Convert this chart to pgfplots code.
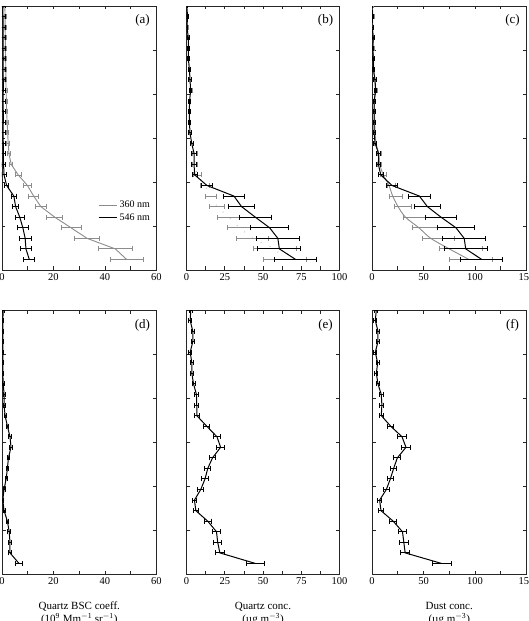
\documentclass[border=0pt]{standalone}
\usepackage{fontspec}
\setmainfont{Liberation Serif}
\usepackage{pgfplots}
\usepackage{pgfplotstable}
\pgfplotsset{compat=1.18}

% columns: altitude z (km), value v, error e
\pgfplotstableread{
z v e
0.24 48.4 6.4
0.48 44.0 6.5
0.72 33.0 4.9
0.96 26.8 3.9
1.20 20.5 3.1
1.44 15.1 2.3
1.68 12.3 1.9
1.92 9.9 1.6
2.16 6.3 1.1
2.40 3.6 0.6
2.64 2.7 0.5
2.88 2.4 0.5
3.12 2.2 0.4
3.36 2.0 0.4
3.60 1.8 0.4
3.84 1.7 0.4
4.08 1.6 0.4
4.32 1.5 0.4
4.56 1.5 0.4
4.80 1.4 0.4
5.04 1.3 0.4
5.28 1.3 0.4
5.52 1.2 0.4
5.76 1.2 0.4
6.00 1.1 0.4
}\bscA
\pgfplotstableread{
z v e
0.24 10.6 2.1
0.48 9.3 2.2
0.72 9.0 2.3
0.96 8.1 2.0
1.20 6.9 1.7
1.44 5.3 1.3
1.68 4.6 1.1
1.92 1.8 0.7
2.16 0.8 0.8
2.40 0.6 0.9
2.64 0.5 0.9
2.88 0.5 0.9
3.12 0.4 0.9
3.36 0.5 0.9
3.60 0.5 0.9
3.84 0.4 0.9
4.08 0.5 0.9
4.32 0.5 0.9
4.56 0.4 0.9
4.80 0.5 0.9
5.04 0.4 0.9
5.28 0.4 0.9
5.52 0.4 0.9
5.76 0.4 0.9
6.00 0.3 0.9
}\bscB
\pgfplotstableread{
z v e
0.24 64.3 13.9
0.48 57.8 13.8
0.72 43.3 10.4
0.96 34.5 7.5
1.20 27.5 7.1
1.44 20.0 4.8
1.68 16.0 3.8
1.92 12.0 3.0
2.16 7.2 2.7
2.40 5.5 1.5
2.64 5.5 1.5
2.88 3.6 1.0
3.12 2.5 0.8
3.36 2.1 0.7
3.60 2.1 0.7
3.84 2.2 0.7
4.08 2.9 0.8
4.32 2.5 0.7
4.56 2.1 0.7
4.80 1.4 0.6
5.04 1.4 0.6
5.28 1.4 0.6
5.52 0.5 0.5
5.76 0.9 0.5
6.00 0.4 0.5
}\qcA
\pgfplotstableread{
z v e
0.24 71.3 13.9
0.48 60.7 14.1
0.72 59.7 13.9
0.96 54.3 12.2
1.20 45.0 10.4
1.44 36.0 8.4
1.68 31.0 7.0
1.92 13.4 3.3
2.16 5.4 1.8
2.40 4.9 1.5
2.64 5.0 1.5
2.88 3.4 1.0
3.12 2.3 0.8
3.36 1.9 0.7
3.60 1.9 0.7
3.84 2.0 0.7
4.08 2.7 0.8
4.32 2.3 0.7
4.56 1.9 0.7
4.80 1.2 0.6
5.04 1.2 0.6
5.28 1.2 0.6
5.52 0.3 0.5
5.76 0.7 0.5
6.00 0.2 0.5
}\qcB
\pgfplotstableread{
z v e
0.24 96.0 20.6
0.48 86.7 20.8
0.72 64.6 15.2
0.96 51.5 11.8
1.20 41.0 10.9
1.44 30.0 8.0
1.68 23.4 6.5
1.92 19.0 4.0
2.16 11.0 3.2
2.40 7.0 2.0
2.64 7.0 1.8
2.88 3.5 1.2
3.12 2.3 1.0
3.36 2.3 1.0
3.60 2.3 1.0
3.84 2.3 1.0
4.08 3.9 1.0
4.32 3.2 1.0
4.56 1.6 1.0
4.80 1.6 1.0
5.04 0.9 1.0
5.28 1.6 1.0
5.52 0.3 1.0
5.76 0.9 1.0
6.00 0.3 0.8
}\dcA
% smoothed 360 nm dust profile
\pgfplotstableread{
z v
0.24 94.0
0.48 75.0
0.72 57.0
0.96 45.5
1.20 32.5
1.44 25.3
1.68 20.1
1.92 16.5
2.16 11.0
2.40 7.5
2.64 6.5
2.88 4.0
3.12 3.0
3.36 2.6
3.60 2.5
3.84 2.5
4.08 3.2
4.32 2.8
4.56 1.8
4.80 1.6
5.04 1.1
5.28 1.3
5.52 0.6
5.76 0.7
6.00 0.4
}\dcFit
\pgfplotstableread{
z v e
0.24 106.5 20.6
0.48 91.0 21.0
0.72 89.5 20.6
0.96 81.5 18.2
1.20 67.0 15.5
1.44 53.8 12.7
1.68 46.0 10.8
1.92 19.5 5.2
2.16 8.5 2.5
2.40 6.2 2.2
2.64 6.5 2.0
2.88 3.0 1.2
3.12 2.0 1.0
3.36 2.0 1.0
3.60 2.0 1.0
3.84 2.0 1.0
4.08 3.6 1.0
4.32 2.9 1.0
4.56 1.3 1.0
4.80 1.3 1.0
5.04 0.6 1.0
5.28 1.3 1.0
5.52 0.0 1.0
5.76 0.6 1.0
6.00 0.0 0.8
}\dcB
\pgfplotstableread{
z v e
0.24 6.6 1.2
0.48 3.1 0.5
0.72 3.1 0.5
0.96 2.8 0.5
1.20 2.1 0.5
1.44 0.8 0.4
1.68 0.3 0.4
1.92 0.8 0.4
2.16 1.6 0.4
2.40 2.1 0.5
2.64 2.5 0.5
2.88 3.5 0.5
3.12 3.1 0.5
3.36 2.1 0.4
3.60 1.2 0.4
3.84 0.8 0.4
4.08 0.8 0.4
4.32 0.5 0.4
4.56 0.3 0.4
4.80 0.3 0.4
5.04 0.3 0.4
5.28 0.3 0.4
5.52 0.3 0.4
5.76 0.3 0.4
6.00 0.5 0.4
}\bscC
\pgfplotstableread{
z v e
0.24 45.0 6.0
0.48 21.8 2.8
0.72 20.4 2.6
0.96 19.6 2.5
1.20 13.9 2.2
1.44 6.1 1.5
1.68 5.2 1.5
1.92 9.3 1.8
2.16 12.1 2.0
2.40 13.9 2.0
2.64 17.0 2.2
2.88 22.3 2.6
3.12 19.9 2.5
3.36 13.2 2.0
3.60 6.7 1.5
3.84 6.7 1.2
4.08 6.5 1.2
4.32 4.6 1.0
4.56 3.5 1.0
4.80 3.5 1.0
5.04 2.4 1.0
5.28 4.1 1.0
5.52 4.1 1.0
5.76 2.4 1.0
6.00 2.8 1.0
}\qcC
\pgfplotstableread{
z v e
0.24 67.5 9.2
0.48 32.2 4.5
0.72 30.9 4.3
0.96 29.6 4.2
1.20 20.6 3.5
1.44 8.7 2.2
1.68 7.4 2.2
1.92 13.9 2.8
2.16 17.8 3.0
2.40 21.0 3.2
2.64 24.6 3.4
2.88 33.0 4.2
3.12 29.1 4.0
3.36 18.1 3.0
3.60 9.0 2.0
3.84 9.6 2.0
4.08 9.0 2.0
4.32 5.8 1.8
4.56 4.2 1.5
4.80 5.5 1.5
5.04 3.2 1.5
5.28 5.8 1.5
5.52 5.8 1.5
5.76 3.2 1.5
6.00 4.2 1.5
}\dcC

\tikzset{
  tag/.style={font=\fontsize{13}{15}\selectfont},
  unitlab/.style={font=\fontsize{11}{13}\selectfont, anchor=base, yshift=-48pt},
}
\pgfplotsset{
  prof/.style={
    scale only axis, height=264pt,
    clip mode=individual,
    ymin=0, ymax=6, ytick={0,1,...,6}, yticklabels={},
    axis line style={line width=0.7pt, black!85},
    every tick/.style={black!85, line width=0.6pt},
    major tick length=3.5pt,
    tick align=inside,
    ticklabel style={font=\fontsize{10.5}{12}\selectfont},
    label style={font=\fontsize{11}{13}\selectfont},
    xlabel style={at={(axis description cs:0.5,0)}, anchor=base, yshift=-35pt},
  },
  colA/.style={width=154.5pt, xmin=0, xmax=60, xtick={0,10,...,60}, xticklabels={0,,20,,40,,60}},
  colB/.style={width=153pt, xmin=0, xmax=100, xtick={0,12.5,...,100}, xticklabels={0,,25,,50,,75,,100}},
  colC/.style={width=154.5pt, xmin=0, xmax=150, xtick={0,25,...,150}, xticklabels={0,,50,,100,,150}},
  % horizontal error bars with vertical end caps
  xerr/.style 2 args={
    /pgfplots/error bars/x dir=both,
    /pgfplots/error bars/x explicit,
    /pgfplots/error bars/error mark=|,
    /pgfplots/error bars/error bar style={line width=#2, solid, #1},
    /pgfplots/error bars/error mark options={line width=#2, mark size=2.5pt, solid, #1}},
  blk/.style={black, line width=1pt, mark=none, xerr={black}{1pt}},
  gry/.style={black!45, line width=0.9pt, mark=none, xerr={black!45}{0.9pt}},
}

\begin{document}
\begin{tikzpicture}
% (a) backscatter coefficient at two wavelengths
\begin{axis}[prof, colA, at={(2pt,351pt)}, anchor=south west,
    legend style={at={(axis cs:37.3,1.33)}, anchor=west, draw=none, fill=none,
      inner sep=0pt, row sep=0pt, font=\fontsize{10}{12}\selectfont},
    legend cell align=left,
    legend image code/.code={\draw[#1] (0pt,0pt) -- (18.5pt,0pt);}]
  \addplot[gry] table[x=v, y=z, x error=e] {\bscA};
  \addlegendentry{360 nm}
  \addplot[blk] table[x=v, y=z, x error=e] {\bscB};
  \addlegendentry{546 nm}
  \node[tag] at (rel axis cs:1,1) [xshift=-14pt, yshift=-14pt] {(a)};
\end{axis}
% (b) quartz concentration
\begin{axis}[prof, colB, at={(186.5pt,351pt)}, anchor=south west]
  \addplot[gry, draw=black!30, dash pattern=on 0.8pt off 9pt] table[x=v, y=z, x error=e] {\qcA};
  \addplot[blk] table[x=v, y=z, x error=e] {\qcB};
  \node[tag] at (rel axis cs:1,1) [xshift=-14pt, yshift=-14pt] {(b)};
\end{axis}
% (c) dust concentration
\begin{axis}[prof, colC, at={(372pt,351pt)}, anchor=south west]
  \addplot[gry, draw=none] table[x=v, y=z, x error=e] {\dcA};
  \addplot[black!45, line width=0.9pt, smooth] table[x=v, y=z] {\dcFit};
  \addplot[blk] table[x=v, y=z, x error=e] {\dcB};
  \node[tag] at (rel axis cs:1,1) [xshift=-14pt, yshift=-14pt] {(c)};
\end{axis}
% (d)
\begin{axis}[prof, colA, at={(2pt,47pt)}, anchor=south west, xlabel={Quartz BSC coeff.}]
  \addplot[blk] table[x=v, y=z, x error=e] {\bscC};
  \node[tag] at (rel axis cs:1,1) [xshift=-14pt, yshift=-15pt] {(d)};
  \node[unitlab] at (axis description cs:0.5,0)
    {(10\textsuperscript{9} Mm\textsuperscript{$-$1} sr\textsuperscript{$-$1})};
\end{axis}
% (e)
\begin{axis}[prof, colB, at={(186.5pt,47pt)}, anchor=south west, xlabel={Quartz conc.}]
  \addplot[blk] table[x=v, y=z, x error=e] {\qcC};
  \node[tag] at (rel axis cs:1,1) [xshift=-14pt, yshift=-15pt] {(e)};
  \node[unitlab] at (axis description cs:0.5,0) {(µg m\textsuperscript{$-$3})};
\end{axis}
% (f)
\begin{axis}[prof, colC, at={(372pt,47pt)}, anchor=south west, xlabel={Dust conc.}]
  \addplot[blk] table[x=v, y=z, x error=e] {\dcC};
  \node[tag] at (rel axis cs:1,1) [xshift=-14pt, yshift=-15pt] {(f)};
  \node[unitlab] at (axis description cs:0.5,0) {(µg m\textsuperscript{$-$3})};
\end{axis}
\pgfresetboundingbox
\path[use as bounding box] (0pt,0pt) rectangle (528pt,621pt);
\end{tikzpicture}
\end{document}
